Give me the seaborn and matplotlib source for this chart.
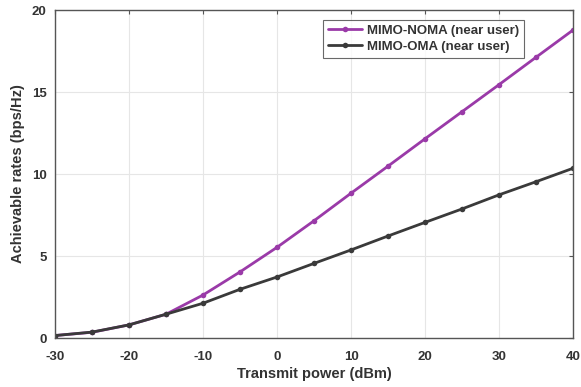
import numpy as np
import pandas as pd
import matplotlib
matplotlib.use("Agg")
import matplotlib.pyplot as plt
import seaborn as sns

# Transmit power sweep (dBm) and achievable rates (bps/Hz)
power_dbm = [-30, -25, -20, -15, -10, -5, 0, 5, 10, 15, 20, 25, 30, 35, 40]
rate_noma = [0.15, 0.35, 0.8, 1.45, 2.62, 4.03, 5.53, 7.15, 8.83, 10.48, 12.15, 13.8, 15.45, 17.12, 18.78]
rate_oma = [0.15, 0.36, 0.8, 1.45, 2.12, 2.97, 3.72, 4.55, 5.37, 6.22, 7.05, 7.87, 8.73, 9.53, 10.35]
series_names = ["MIMO-NOMA (near user)", "MIMO-OMA (near user)"]
series_colors = ["#9a3aa8", "#3a3a3a"]

df = pd.concat([
    pd.DataFrame({"power": power_dbm, "rate": rate_noma, "scheme": series_names[0]}),
    pd.DataFrame({"power": power_dbm, "rate": rate_oma, "scheme": series_names[1]}),
])

sns.set_style("white")
plt.rcParams["font.family"] = ["Liberation Sans", "DejaVu Sans"]
plt.rcParams["font.weight"] = "bold"
plt.rcParams["axes.unicode_minus"] = False

fig = plt.figure(figsize=(5.81, 3.87), dpi=100)
ax = fig.add_axes([0.0947, 0.1266, 0.8916, 0.8475])

sns.lineplot(data=df, x="power", y="rate", hue="scheme", hue_order=series_names,
             palette=series_colors, marker="o", markersize=4, markeredgewidth=0,
             linewidth=2.0, ax=ax, legend=True)

ax.set_xlim(-30, 40)
ax.set_ylim(0, 20)
ax.set_xticks(range(-30, 41, 10))
ax.set_yticks([0, 5, 10, 15, 20])
ax.grid(True, color="#e6e6e6", linewidth=0.8)
ax.tick_params(direction="in", top=True, right=True, length=3, labelsize=9.5,
               color="#555555", labelcolor="#333333")
ax.tick_params(axis="x", pad=9)
ax.tick_params(axis="y", pad=6)
for lab in ax.get_xticklabels() + ax.get_yticklabels():
    lab.set_fontweight("bold")
for s in ax.spines.values():
    s.set_color("#555555")
    s.set_linewidth(1.0)

ax.set_xlabel("Transmit power (dBm)", fontsize=10.5, fontweight="bold", color="#333333", labelpad=3)
ax.set_ylabel("Achievable rates (bps/Hz)", fontsize=10.5, fontweight="bold", color="#333333", labelpad=5)

leg = ax.legend(loc="upper right", bbox_to_anchor=(0.918, 0.99), fontsize=9.5,
                frameon=True, fancybox=False, borderpad=0.35, labelspacing=0.3,
                handlelength=2.6, handletextpad=0.4)
leg.get_frame().set_edgecolor("#444444")
leg.get_frame().set_linewidth(0.8)
for t in leg.get_texts():
    t.set_fontweight("bold")
    t.set_color("#333333")

fig.savefig("out.png", dpi=100)
